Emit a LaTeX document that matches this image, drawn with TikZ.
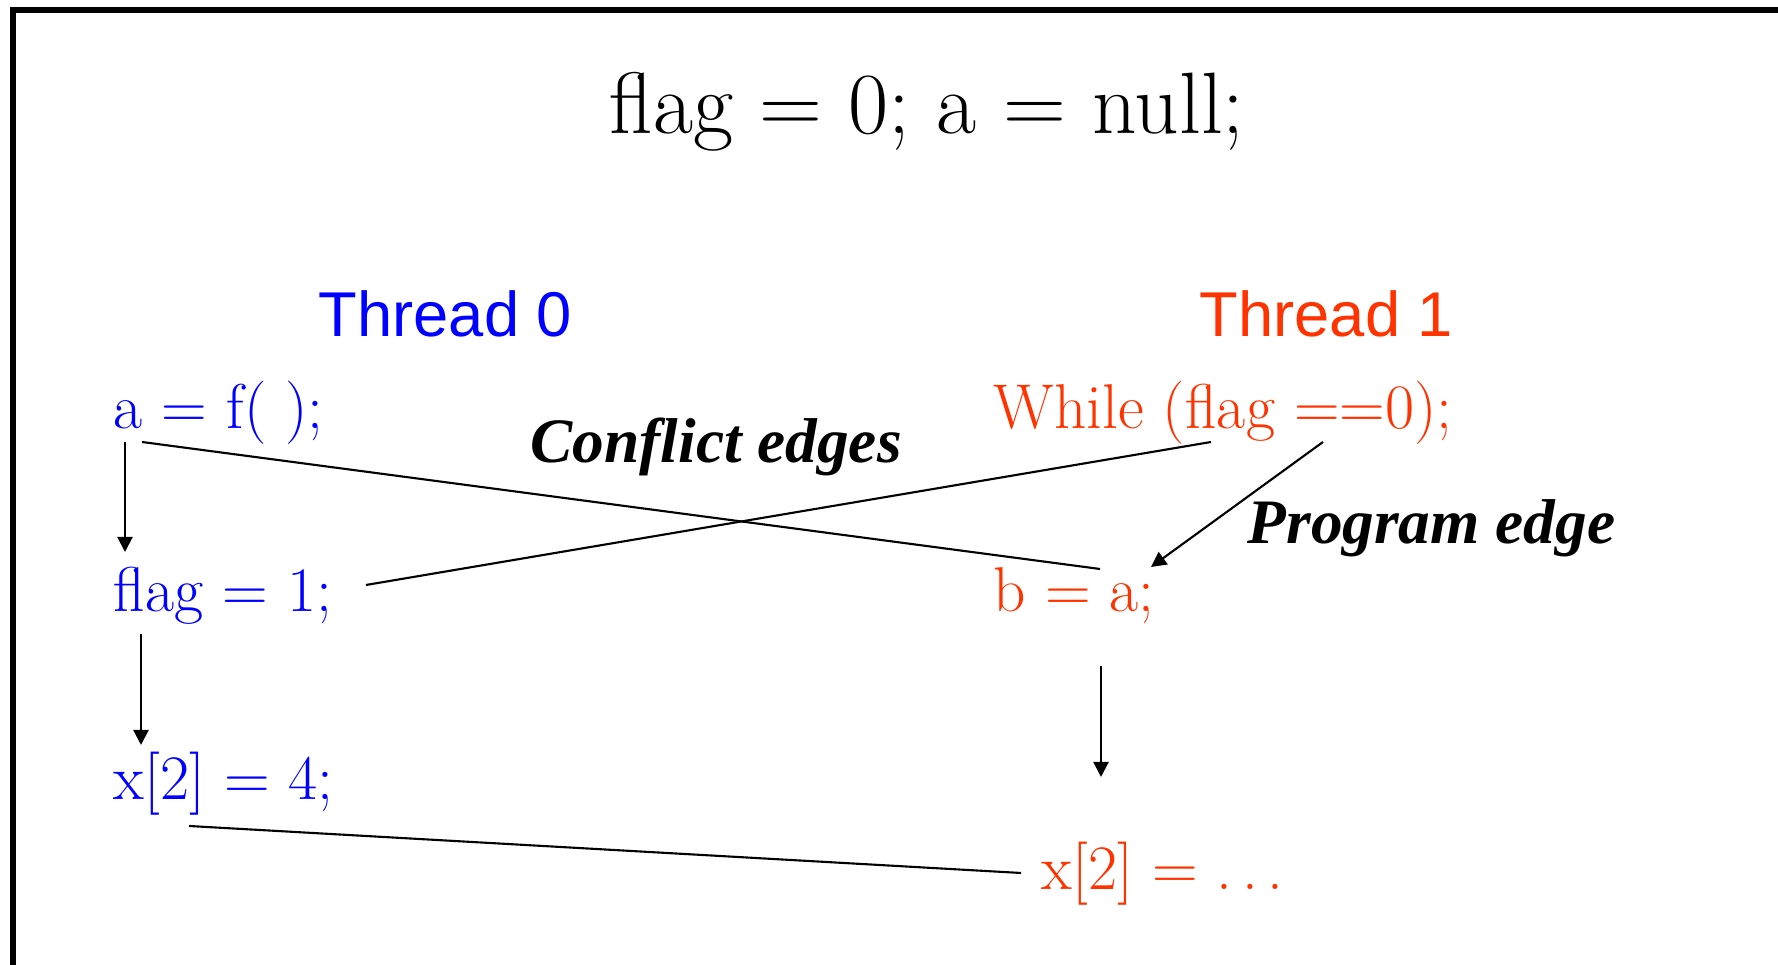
\documentclass[tikz,border=0pt]{standalone}
\usepackage{fontspec}
\usetikzlibrary{arrows.meta}
\newfontfamily\sansfnt{Liberation Sans}
\newfontfamily\timesfnt{Liberation Serif}
\definecolor{thblue}{RGB}{0,0,255}
\definecolor{thred}{RGB}{255,51,0}
\tikzset{
  code/.style={anchor=base west,inner sep=0pt,font=\fontsize{18pt}{21pt}\selectfont},
  code0/.style={code,text=thblue},
  code1/.style={code,text=thred},
  thrlabel/.style={anchor=base west,inner sep=0pt,font=\sansfnt\fontsize{18pt}{21pt}\selectfont},
  edgelabel/.style={anchor=base west,inner sep=0pt,font=\timesfnt\bfseries\itshape\fontsize{18pt}{21pt}\selectfont},
  progarrow/.style={-{Triangle[length=4.3pt,width=4.3pt]},line width=0.6pt},
  confline/.style={line width=0.6pt}
}
\begin{document}
\begin{tikzpicture}[x=0.01cm,y=-0.01cm]
  \clip (0,0) rectangle (1778,965);
  \draw[line width=1.7pt] (1800,10) -- (13,10) -- (13,1000);
  \node[anchor=base west,inner sep=0pt,font=\fontsize{24.8pt}{29pt}\selectfont] (title) at (609,134) {flag = 0; a = null;};
  \node[thrlabel,text=thblue] (thr0) at (318,337) {Thread 0};
  \node[thrlabel,text=thred] (thr1) at (1199,337) {Thread 1};
  % thread 0
  \node[code0] (af) at (113,429) {a = f( );};
  \node[code0] (flag1) at (113,612) {flag = 1;};
  \node[code0] (xw) at (113,800) {x[2] = 4;};
  % thread 1
  \node[code1] (wh) at (993,429) {While (flag ==0);};
  \node[code1] (ba) at (993,612) {b = a;};
  \node[code1] (xr) at (1041,890) {x[2] = .\hspace{0.15em}.\hspace{0.15em}.};
  \node[edgelabel] (conflict) at (530,463) {Conflict edges};
  \node[edgelabel] (progedge) at (1247,544) {Program edge};
  % program edges
  \draw[progarrow] ([shift={(12,13)}]af.base west) -- ([shift={(12,-60)}]flag1.base west);
  \draw[progarrow] ([shift={(28,22)}]flag1.base west) -- ([shift={(28,-55)}]xw.base west);
  \draw[progarrow] ([shift={(330,13)}]wh.base west) -- ([shift={(158,-45)}]ba.base west);
  \draw[progarrow] ([shift={(108,54)}]ba.base west) -- ([shift={(60,-113)}]xr.base west);
  % conflict edges
  \draw[confline] ([shift={(29,13)}]af.base west) -- ([shift={(107,-43)}]ba.base west);
  \draw[confline] ([shift={(253,-27)}]flag1.base west) -- ([shift={(218,13)}]wh.base west);
  \draw[confline] ([shift={(76,26)}]xw.base west) -- ([shift={(-20,-17)}]xr.base west);
\end{tikzpicture}
\end{document}
